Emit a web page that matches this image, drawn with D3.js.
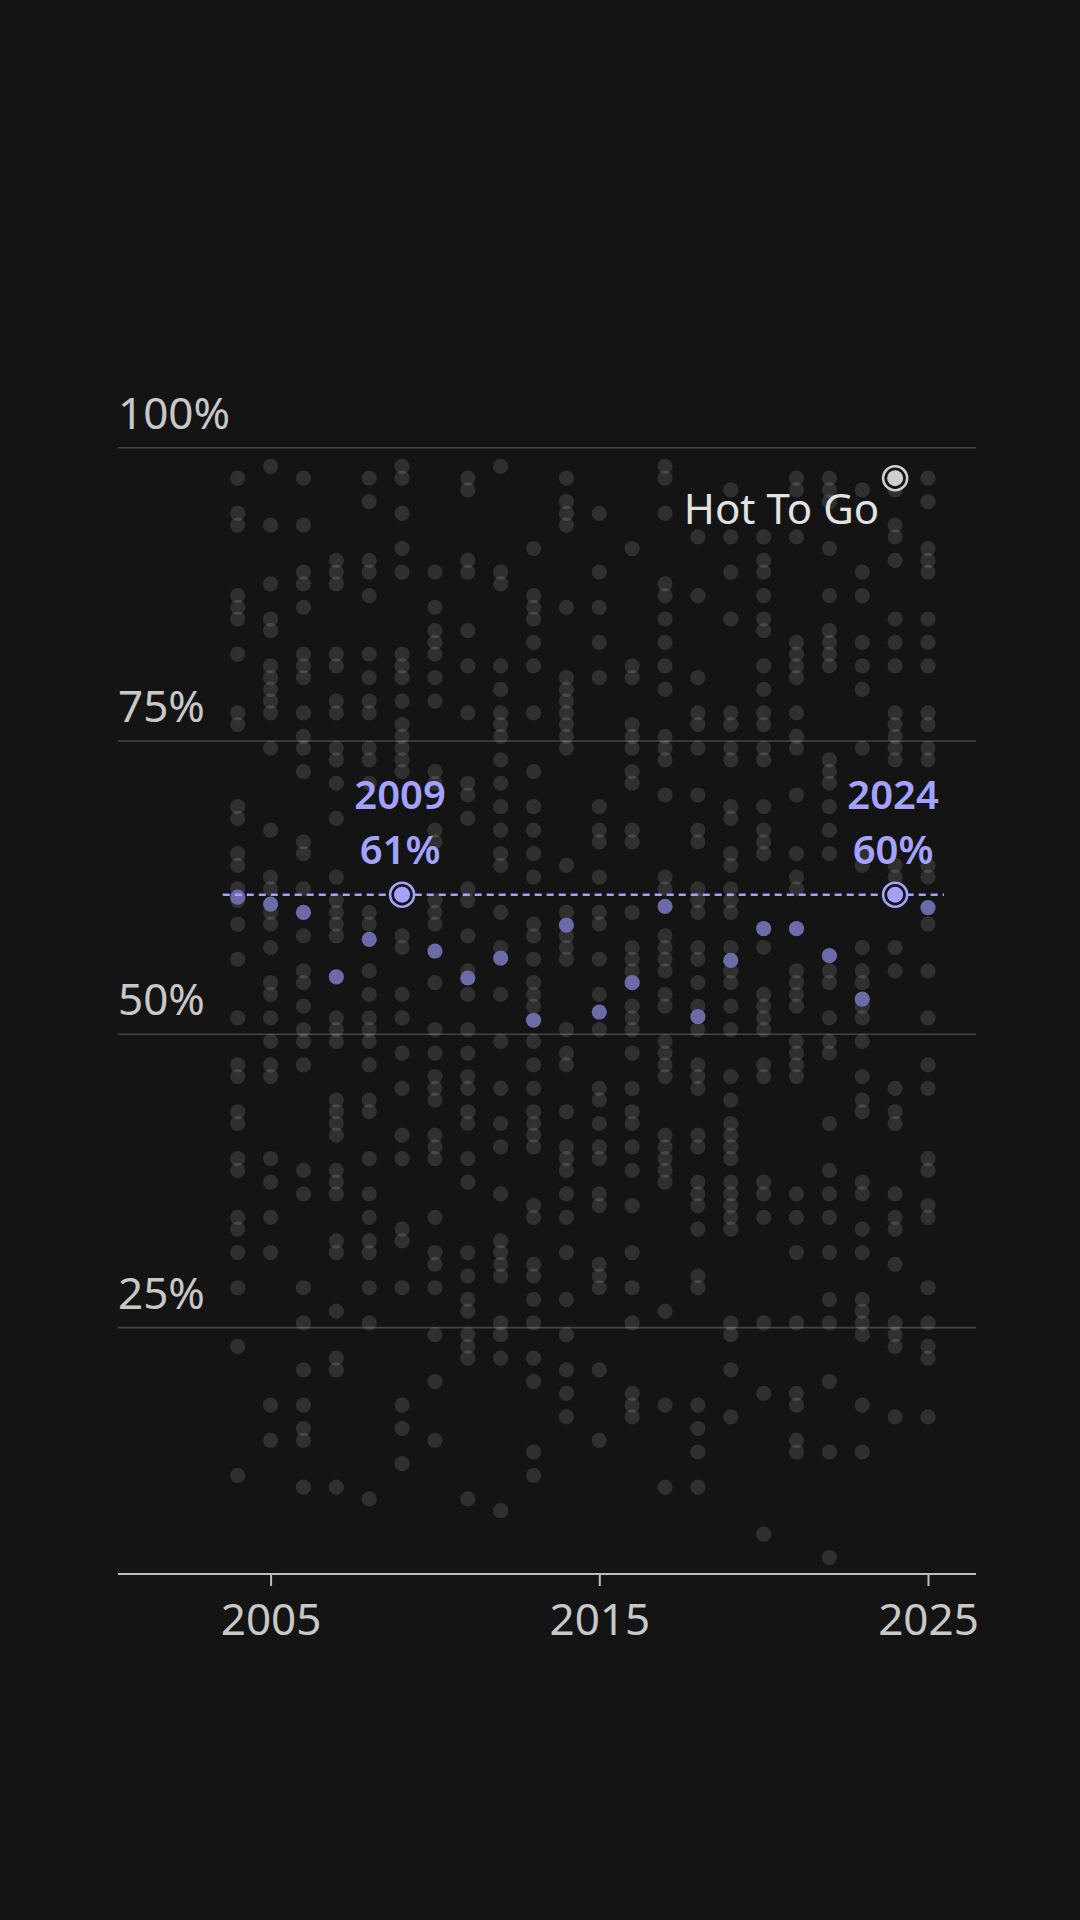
<!DOCTYPE html>
<html>
<head>
<meta charset="utf-8">
<script src="https://cdn.jsdelivr.net/npm/d3@7/dist/d3.min.js"></script>
<style>
  html, body { margin: 0; padding: 0; background: #141414; }
  svg { display: block; }
  text { font-family: "Noto Sans", "Open Sans", sans-serif; }
</style>
</head>
<body>
<svg id="chart" width="1080" height="1920"></svg>
<script>
// ---- data ----
const years = [2004,2005,2006,2007,2008,2009,2010,2011,2012,2013,2014,2015,2016,2017,2018,2019,2020,2021,2022,2023,2024,2025];

const songValues = [
  [97.4,94.4,93.4,87.4,86.4,85.4,82.4,77.4,76.4,69.4,68.4,65.4,64.4,62.4,61.4,59.4,56.4,51.4,47.4,46.4,43.4,42.4,39.4,38.4,34.4,33.4,31.4,28.4,23.4,12.4],
  [98.4,93.4,88.4,85.4,84.4,81.4,80.4,79.4,78.4,77.4,74.4,67.4,63.4,62.4,60.4,59.4,57.4,54.4,53.4,51.4,49.4,47.4,46.4,39.4,37.4,34.4,31.4,18.4,15.4],
  [97.4,93.4,89.4,88.4,86.4,82.4,81.4,80.4,77.4,75.4,74.4,72.4,66.4,65.4,62.4,58.4,55.4,54.4,52.4,50.4,49.4,47.4,38.4,36.4,28.4,25.4,21.4,18.4,16.4,15.4,11.4],
  [90.4,89.4,88.4,82.4,81.4,78.4,77.4,74.4,73.4,71.4,68.4,63.4,61.4,60.4,59.4,58.4,51.4,50.4,49.4,44.4,43.4,42.4,41.4,38.4,37.4,36.4,32.4,31.4,26.4,22.4,21.4,11.4],
  [97.4,95.4,90.4,89.4,87.4,82.4,80.4,78.4,77.4,74.4,73.4,71.4,60.4,59.4,55.4,53.4,51.4,50.4,49.4,47.4,44.4,43.4,39.4,36.4,34.4,32.4,31.4,28.4,25.4,10.4],
  [98.4,97.4,94.4,91.4,89.4,82.4,81.4,80.4,78.4,76.4,75.4,74.4,73.4,72.4,58.4,57.4,53.4,51.4,48.4,45.4,41.4,39.4,33.4,32.4,28.4,18.4,16.4,13.4],
  [89.4,86.4,84.4,83.4,82.4,80.4,78.4,72.4,71.4,67.4,66.4,61.4,60.4,59.4,54.4,50.4,48.4,46.4,45.4,44.4,41.4,40.4,39.4,34.4,31.4,30.4,28.4,24.4,20.4,15.4],
  [97.4,96.4,90.4,89.4,84.4,81.4,77.4,71.4,70.4,68.4,62.4,61.4,58.4,55.4,53.4,50.4,48.4,46.4,45.4,43.4,42.4,39.4,37.4,31.4,29.4,27.4,26.4,24.4,23.4,22.4,10.4],
  [98.4,89.4,88.4,81.4,79.4,77.4,76.4,75.4,73.4,71.4,69.4,67.4,65.4,64.4,60.4,57.4,53.4,49.4,45.4,42.4,40.4,36.4,32.4,31.4,30.4,29.4,25.4,24.4,22.4,9.4],
  [91.4,87.4,86.4,85.4,83.4,81.4,77.4,72.4,69.4,67.4,65.4,63.4,59.4,58.4,56.4,54.4,53.4,52.4,49.4,47.4,45.4,43.4,42.4,41.4,40.4,35.4,34.4,30.4,29.4,27.4,25.4,22.4,20.4,14.4,12.4],
  [97.4,95.4,94.4,93.4,86.4,80.4,79.4,78.4,77.4,76.4,75.4,74.4,64.4,60.4,58.4,57.4,56.4,50.4,48.4,47.4,43.4,40.4,39.4,38.4,36.4,34.4,31.4,27.4,24.4,21.4,19.4,17.4],
  [94.4,89.4,86.4,83.4,80.4,69.4,67.4,66.4,63.4,60.4,59.4,56.4,53.4,50.4,45.4,44.4,42.4,40.4,39.4,36.4,35.4,30.4,29.4,28.4,21.4,15.4],
  [91.4,81.4,80.4,76.4,75.4,74.4,72.4,71.4,67.4,66.4,60.4,57.4,56.4,55.4,52.4,51.4,50.4,48.4,45.4,43.4,42.4,40.4,38.4,35.4,31.4,28.4,25.4,19.4,18.4,17.4],
  [98.4,97.4,94.4,88.4,87.4,85.4,83.4,81.4,79.4,75.4,74.4,73.4,70.4,63.4,62.4,58.4,57.4,56.4,55.4,53.4,52.4,49.4,48.4,47.4,46.4,41.4,40.4,39.4,38.4,37.4,26.4,18.4,11.4],
  [92.4,87.4,80.4,77.4,76.4,74.4,70.4,67.4,66.4,62.4,61.4,60.4,57.4,56.4,54.4,52.4,50.4,47.4,46.4,45.4,41.4,40.4,37.4,36.4,35.4,33.4,29.4,28.4,18.4,16.4,14.4,11.4],
  [96.4,92.4,89.4,85.4,77.4,76.4,74.4,73.4,69.4,68.4,65.4,64.4,62.4,61.4,60.4,57.4,55.4,54.4,52.4,50.4,46.4,44.4,42.4,41.4,40.4,39.4,37.4,36.4,35.4,34.4,33.4,25.4,24.4,21.4,17.4],
  [92.4,90.4,89.4,87.4,85.4,84.4,81.4,79.4,77.4,76.4,74.4,73.4,69.4,67.4,66.4,65.4,57.4,53.4,52.4,51.4,50.4,47.4,46.4,37.4,36.4,34.4,25.4,19.4,7.4],
  [97.4,96.4,92.4,83.4,82.4,81.4,80.4,77.4,75.4,74.4,70.4,65.4,63.4,62.4,55.4,54.4,53.4,52.4,49.4,48.4,47.4,46.4,36.4,34.4,31.4,25.4,19.4,18.4,15.4,14.4],
  [97.4,96.4,95.4,91.4,87.4,84.4,83.4,82.4,81.4,73.4,72.4,71.4,69.4,67.4,65.4,55.4,54.4,51.4,49.4,48.4,42.4,38.4,36.4,34.4,31.4,27.4,25.4,20.4,14.4,5.4],
  [96.4,89.4,87.4,83.4,81.4,79.4,74.4,65.4,64.4,57.4,55.4,54.4,52.4,51.4,49.4,46.4,44.4,43.4,37.4,36.4,33.4,31.4,27.4,26.4,25.4,24.4,18.4,14.4],
  [96.4,93.4,92.4,90.4,85.4,83.4,81.4,77.4,76.4,75.4,74.4,73.4,64.4,63.4,57.4,55.4,45.4,43.4,42.4,36.4,34.4,33.4,30.4,25.4,24.4,23.4,17.4],
  [97.4,95.4,91.4,90.4,89.4,85.4,83.4,81.4,77.4,76.4,74.4,73.4,64.4,63.4,59.4,55.4,51.4,47.4,45.4,39.4,38.4,35.4,34.4,28.4,25.4,23.4,22.4,17.4]
];

const yearAverages = [61.7,61.1,60.4,54.9,58.1,61.9,57.1,54.8,56.5,51.2,59.3,51.9,54.4,60.9,51.5,56.3,59.0,59.0,56.7,53.0,61.9,60.8];

const yTicks = [25, 50, 75, 100];
const yTickLabels = ["25%", "50%", "75%", "100%"];
const xTicks = [2005, 2015, 2025];

const highlightYears = [2009, 2024];
const highlightLabels = ["61%", "60%"];

const featuredSong = { name: "Hot To Go", year: 2024, value: 97.4 };

// ---- drawing ----
const svg = d3.select("#chart");
const W = 1080, H = 1920;
svg.append("rect").attr("width", W).attr("height", H).attr("fill", "#141414");

const plotLeft = 118, plotRight = 976;
const x = d3.scaleLinear().domain([2005, 2025]).range([270.6, 928]);
const y = d3.scaleLinear().domain([4, 100]).range([1574, 447.7]);

const gray = "#cfcfcf";
const purple = "#a3a3ff";

// grid lines
const grid = svg.append("g");
grid.selectAll("line").data(yTicks).join("line")
  .attr("x1", plotLeft).attr("x2", plotRight)
  .attr("y1", d => y(d)).attr("y2", d => y(d))
  .attr("stroke", "#444").attr("stroke-width", 1.6);

grid.selectAll("text").data(yTicks).join("text")
  .attr("x", plotLeft).attr("y", d => y(d) - 19)
  .attr("fill", "#c8c8c8").attr("font-size", 44)
  .text((d, i) => yTickLabels[i]);

// x axis
const xAxis = svg.append("g").attr("transform", `translate(0,${y(4)})`)
  .call(d3.axisBottom(x).tickValues(xTicks).tickFormat(d3.format("d")).tickSize(12).tickPadding(18).tickSizeOuter(0));
xAxis.select(".domain").remove();
xAxis.append("line").attr("x1", plotLeft).attr("x2", plotRight).attr("stroke", "#bdbdbd").attr("stroke-width", 2);
xAxis.selectAll(".tick line").attr("stroke", "#bdbdbd").attr("stroke-width", 2);
xAxis.selectAll(".tick text").attr("fill", "#c8c8c8").attr("font-size", 44)
  .attr("font-family", "'Noto Sans', sans-serif");

// song dots
const pts = [];
years.forEach((yr, i) => songValues[i].forEach(v => pts.push({ yr, v })));
svg.append("g").selectAll("circle").data(pts).join("circle")
  .attr("cx", d => x(d.yr)).attr("cy", d => y(d.v)).attr("r", 7.6)
  .attr("fill", "#ffffff").attr("fill-opacity", 0.12);

// yearly averages
const avgData = years.map((yr, i) => ({ yr, v: yearAverages[i] }));
svg.append("g").selectAll("circle")
  .data(avgData.filter(d => !highlightYears.includes(d.yr))).join("circle")
  .attr("cx", d => x(d.yr)).attr("cy", d => y(d.v)).attr("r", 7.6)
  .attr("fill", "#6b6ba8");

// dashed reference line
const lineV = yearAverages[years.indexOf(2009)];
svg.append("line")
  .attr("x1", x(2004) - 15).attr("x2", x(2025) + 16)
  .attr("y1", y(lineV)).attr("y2", y(lineV))
  .attr("stroke", purple).attr("stroke-width", 2.6).attr("stroke-dasharray", "7,5");

// highlighted averages
const hl = svg.append("g");
highlightYears.forEach((yr, i) => {
  const v = yearAverages[years.indexOf(yr)];
  const cx = x(yr), cy = y(v);
  hl.append("circle").attr("cx", cx).attr("cy", cy).attr("r", 12)
    .attr("fill", "#141414").attr("stroke", purple).attr("stroke-width", 2.6);
  hl.append("circle").attr("cx", cx).attr("cy", cy).attr("r", 8).attr("fill", purple);
  hl.append("text").attr("x", cx - 2).attr("y", cy - 86).attr("text-anchor", "middle")
    .attr("fill", purple).attr("font-size", 40).attr("font-weight", 600).text(String(yr));
  hl.append("text").attr("x", cx - 2).attr("y", cy - 31).attr("text-anchor", "middle")
    .attr("fill", purple).attr("font-size", 40).attr("font-weight", 600).text(highlightLabels[i]);
});

// featured song
const fx = x(featuredSong.year), fy = y(featuredSong.value);
svg.append("circle").attr("cx", fx).attr("cy", fy).attr("r", 12)
  .attr("fill", "#141414").attr("stroke", gray).attr("stroke-width", 2.6);
svg.append("circle").attr("cx", fx).attr("cy", fy).attr("r", 8).attr("fill", gray);
svg.append("text").attr("x", fx - 16).attr("y", fy + 46).attr("text-anchor", "end")
  .attr("fill", "#e2e2e2").attr("font-size", 42).text(featuredSong.name);
</script>
</body>
</html>
